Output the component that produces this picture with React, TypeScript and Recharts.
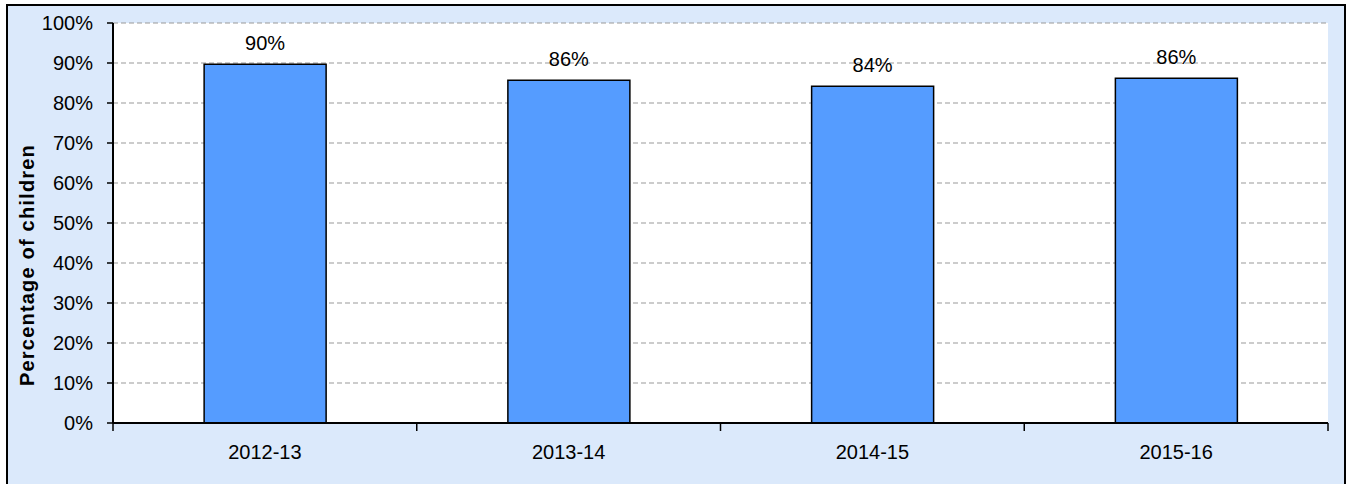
import React from 'react';
import { BarChart, Bar, XAxis, YAxis, CartesianGrid, LabelList } from 'recharts';

const years = ['2012-13', '2013-14', '2014-15', '2015-16'];
const percentages = [89.7, 85.7, 84.2, 86.2];
const yTicks = [0, 10, 20, 30, 40, 50, 60, 70, 80, 90, 100];

const data = years.map((year, i) => ({ year, value: percentages[i] }));

const font = '"Liberation Sans", Arial, sans-serif';
const X_TICK_MARGIN = 22;
const X_TICK_LEN = 8;

// category label in the middle, tick marks on the band edges (Excel style)
const YearTick = (props: any) => {
  const { x, y, payload, index, visibleTicksCount } = props;
  const half = payload.offset || 0;
  const axisY = y - X_TICK_MARGIN;
  const isLast = index === visibleTicksCount - 1;
  return (
    <g>
      <line x1={x - half} x2={x - half} y1={axisY} y2={axisY + X_TICK_LEN} stroke="#000" strokeWidth={1.5} />
      {isLast && <line x1={x + half} x2={x + half} y1={axisY} y2={axisY + X_TICK_LEN} stroke="#000" strokeWidth={1.5} />}
      <text x={x} y={y} dy="0.71em" textAnchor="middle" fill="#000" fontSize={20} fontFamily={font}>
        {payload.value}
      </text>
    </g>
  );
};

export default function App() {
  return (
    <div style={{ position: 'absolute', left: 0, top: 0, width: 1350, height: 484, overflow: 'hidden', fontFamily: font }}>
      <div
        style={{
          position: 'absolute',
          left: 6,
          top: 4,
          width: 1336,
          height: 520,
          background: '#dbe9fb',
          border: '2px solid #000',
        }}
      />
      <div style={{ position: 'absolute', left: 0, top: 0 }}>
        <BarChart width={1350} height={484} data={data} margin={{ top: 23, right: 22, left: 0, bottom: 0 }} barCategoryGap="30%">
          <CartesianGrid fill="#ffffff" vertical={false} stroke="#999" strokeDasharray="5 3" />
          <XAxis
            dataKey="year"
            height={61}
            tickLine={false}
            tickSize={0}
            tickMargin={X_TICK_MARGIN}
            axisLine={{ stroke: '#000', strokeWidth: 2 }}
            tick={<YearTick />}
          />
          <YAxis
            domain={[0, 100]}
            ticks={yTicks}
            width={113}
            tickFormatter={(v) => `${v}%`}
            tickSize={6}
            tickMargin={14}
            tickLine={{ stroke: '#000', strokeWidth: 1.5 }}
            axisLine={{ stroke: '#000', strokeWidth: 2 }}
            tick={{ fill: '#000', fontSize: 20, fontFamily: font }}
            label={{
              value: 'Percentage of children',
              angle: -90,
              position: 'insideLeft',
              dx: 22,
              dy: 42,
              style: { fill: '#000', fontSize: 20, fontWeight: 'bold', letterSpacing: 1.2, fontFamily: font, textAnchor: 'middle' },
            }}
          />
          <YAxis yAxisId="right" orientation="right" width={0} tick={false} tickLine={false} axisLine={{ stroke: '#999', strokeWidth: 2 }} />
          <Bar dataKey="value" fill="#559cff" stroke="#000" strokeWidth={1.5} isAnimationActive={false}>
            <LabelList
              dataKey="value"
              position="top"
              offset={14}
              formatter={(v: number) => `${Math.round(v)}%`}
              style={{ fill: '#000', fontSize: 20, fontFamily: font }}
            />
          </Bar>
        </BarChart>
      </div>
    </div>
  );
}
